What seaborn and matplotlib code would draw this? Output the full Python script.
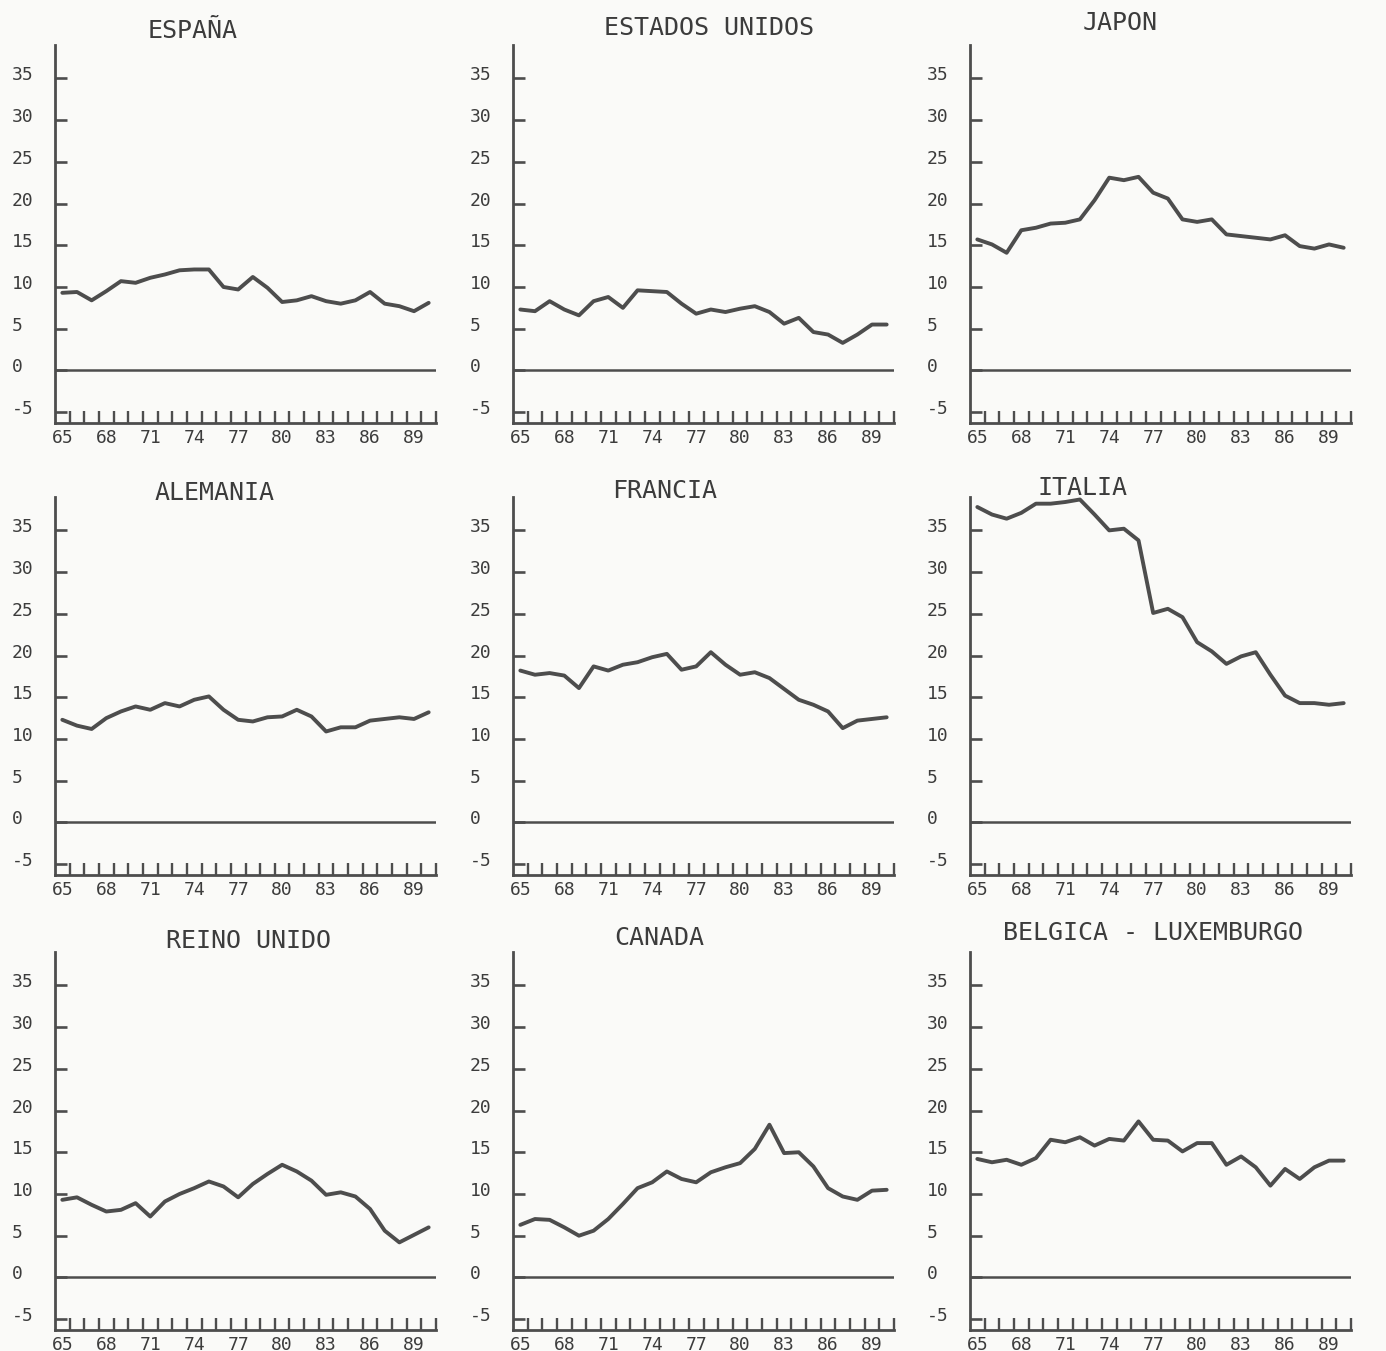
import numpy as np
import pandas as pd
import matplotlib.pyplot as plt
import matplotlib.transforms as mtransforms
from matplotlib.ticker import FixedLocator
import seaborn as sns

# 1. Data (years 1965-1990)
years = list(range(65, 91))

espana = [9.3, 9.4, 8.4, 9.5, 10.7, 10.5, 11.1, 11.5, 12.0, 12.1, 12.1, 10.0, 9.7,
          11.2, 9.9, 8.2, 8.4, 8.9, 8.3, 8.0, 8.4, 9.4, 8.0, 7.7, 7.1, 8.1]
estados_unidos = [7.3, 7.1, 8.3, 7.3, 6.6, 8.3, 8.8, 7.5, 9.6, 9.5, 9.4, 8.0, 6.8,
                  7.3, 7.0, 7.4, 7.7, 7.0, 5.6, 6.3, 4.6, 4.3, 3.3, 4.3, 5.5, 5.5]
japon = [15.7, 15.1, 14.1, 16.8, 17.1, 17.6, 17.7, 18.1, 20.4, 23.1, 22.8, 23.2, 21.3,
         20.6, 18.1, 17.8, 18.1, 16.3, 16.1, 15.9, 15.7, 16.2, 14.9, 14.6, 15.1, 14.7]
alemania = [12.3, 11.6, 11.2, 12.5, 13.3, 13.9, 13.5, 14.3, 13.9, 14.7, 15.1, 13.5, 12.3,
            12.1, 12.6, 12.7, 13.5, 12.7, 10.9, 11.4, 11.4, 12.2, 12.4, 12.6, 12.4, 13.2]
francia = [18.2, 17.7, 17.9, 17.6, 16.1, 18.7, 18.2, 18.9, 19.2, 19.8, 20.2, 18.3, 18.7,
           20.4, 18.9, 17.7, 18.0, 17.3, 16.0, 14.7, 14.1, 13.3, 11.3, 12.2, 12.4, 12.6]
italia = [37.8, 36.9, 36.4, 37.1, 38.2, 38.2, 38.4, 38.7, 36.9, 35.0, 35.2, 33.8, 25.1,
          25.6, 24.6, 21.6, 20.5, 19.0, 19.9, 20.4, 17.7, 15.2, 14.3, 14.3, 14.1, 14.3]
reino_unido = [9.3, 9.6, 8.7, 7.9, 8.1, 8.9, 7.3, 9.1, 10.0, 10.7, 11.5, 10.9, 9.6,
               11.2, 12.4, 13.5, 12.7, 11.6, 9.9, 10.2, 9.7, 8.2, 5.6, 4.2, 5.1, 6.0]
canada = [6.3, 7.0, 6.9, 6.0, 5.0, 5.6, 7.0, 8.8, 10.7, 11.4, 12.7, 11.8, 11.4,
          12.6, 13.2, 13.7, 15.4, 18.3, 14.9, 15.0, 13.3, 10.7, 9.7, 9.3, 10.4, 10.5]
belgica_lux = [14.2, 13.8, 14.1, 13.5, 14.3, 16.5, 16.2, 16.8, 15.8, 16.6, 16.4, 18.7, 16.5,
               16.4, 15.1, 16.1, 16.1, 13.5, 14.5, 13.2, 11.0, 13.0, 11.8, 13.2, 14.0, 14.0]

titles = ['ESPAÑA', 'ESTADOS UNIDOS', 'JAPON',
          'ALEMANIA', 'FRANCIA', 'ITALIA',
          'REINO UNIDO', 'CANADA', 'BELGICA - LUXEMBURGO']
series = [espana, estados_unidos, japon,
          alemania, francia, italia,
          reino_unido, canada, belgica_lux]

x_label_years = [65, 68, 71, 74, 77, 80, 83, 86, 89]
y_ticks = [-5, 0, 5, 10, 15, 20, 25, 30, 35]

# 2. Plot setup
sns.set_theme(style="white")
plt.rcParams['font.family'] = ['DejaVu Sans Mono']

BG = '#fafaf8'
INK = '#4d4d4d'
TXT = '#3c3c3c'

W, H = 1386, 1351
fig = plt.figure(figsize=(W / 100, H / 100), dpi=100, facecolor=BG)

# panel geometry in pixels (typed page layout)
col_left = [55, 513, 970]
row_top = [45, 497, 952]
ax_w, ax_h = 381, 378

# title placement: (x, y, ha)
title_pos = [(193, 30, 'center'), (709, 27, 'center'), (1120, 22, 'center'),
             (215, 492, 'center'), (665, 490, 'center'), (1083, 487, 'center'),
             (249, 940, 'center'), (659, 937, 'center'), (1003, 932, 'left')]

label_shift = mtransforms.ScaledTranslation(0, 5 / 100, fig.dpi_scale_trans)

for i, (name, vals) in enumerate(zip(titles, series)):
    r, c = divmod(i, 3)
    ax = fig.add_axes([col_left[c] / W, 1 - (row_top[r] + ax_h) / H, ax_w / W, ax_h / H])
    ax.set_facecolor('none')

    df = pd.DataFrame({'year': years, 'value': vals})
    sns.lineplot(data=df, x='year', y='value', ax=ax, color=INK, linewidth=2.8)
    ax.axhline(0, color=INK, linewidth=1.8)

    ax.set_xlim(64.5, 90.5)
    ax.set_ylim(-6.3, 39.0)
    ax.set_xlabel('')
    ax.set_ylabel('')

    sns.despine(ax=ax)
    for side in ['left', 'bottom']:
        ax.spines[side].set_color(INK)
        ax.spines[side].set_linewidth(2.0)

    # x axis: labels at years, small ticks between years
    ax.xaxis.set_major_locator(FixedLocator(x_label_years))
    ax.set_xticklabels([str(y) for y in x_label_years])
    ax.xaxis.set_minor_locator(FixedLocator(np.arange(65.5, 91, 1)))
    ax.tick_params(axis='x', which='major', length=0, pad=4, labelsize=13, labelcolor=TXT)
    ax.tick_params(axis='x', which='minor', bottom=True, direction='in', length=8.6,
                   width=1.7, color=INK)

    # y axis: inward ticks, labels left aligned far from the axis
    ax.tick_params(axis='y', which='major', left=True, direction='in', length=8.6,
                   width=1.9, color=INK, pad=31, labelsize=13, labelcolor=TXT)
    ax.set_yticks(y_ticks, labels=[str(v) for v in y_ticks], ha='left')
    for lab in ax.get_yticklabels():
        lab.set_transform(lab.get_transform() + label_shift)

    tx, ty, ha = title_pos[i]
    fig.text(tx / W, 1 - (ty + 8) / H, name, ha=ha, va='baseline',
             fontsize=18, color=TXT)

fig.savefig('out.png', dpi=100, facecolor=BG)
